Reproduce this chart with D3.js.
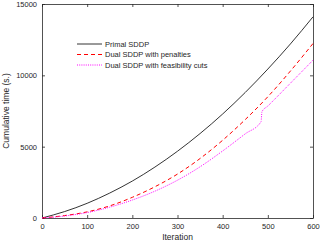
<!DOCTYPE html>
<html>
<head>
<meta charset="utf-8">
<script src="https://cdn.jsdelivr.net/npm/d3@7"></script>
<style>
  body { margin: 0; background: #fff; }
  svg { font-family: "Liberation Sans", Arial, sans-serif; }
</style>
</head>
<body>
<div id="chart"></div>
<script>
// data
var iterations = [0, 50, 100, 150, 200, 250, 300, 350, 400, 450, 500, 550, 600];
var primal = [0, 450, 1030, 1750, 2590, 3570, 4680, 5920, 7290, 8800, 10440, 12200, 14100];
var penalties = [0, 170, 430, 850, 1450, 2190, 3080, 4170, 5450, 6900, 8500, 10300, 12230];
var feasIter = [0, 50, 100, 150, 200, 250, 300, 350, 400, 450, 485, 487, 500, 550, 600];
var feasCuts = [0, 140, 380, 760, 1260, 1880, 2650, 3590, 4700, 5900, 6750, 7450, 7850, 9450, 11060];
var xTicks = [0, 100, 200, 300, 400, 500, 600];
var yTicks = [0, 5000, 10000, 15000];
var seriesNames = ["Primal SDDP", "Dual SDDP with penalties", "Dual SDDP with feasibility cuts"];

var width = 320, height = 244;
var margin = {left: 42, right: 7, top: 4, bottom: 26};
var axisColor = "#262626";

var svg = d3.select("#chart").append("svg")
    .attr("width", width)
    .attr("height", height);

var x = d3.scaleLinear().domain([0, 600]).range([margin.left, width - margin.right]);
var y = d3.scaleLinear().domain([0, 15000]).range([height - margin.bottom, margin.top]);
var fmt = d3.format("d");

// axes (ticks inside, box on all sides)
svg.append("g")
    .attr("transform", "translate(0," + y(0) + ")")
    .call(d3.axisBottom(x).tickValues(xTicks).tickFormat(fmt).tickSizeInner(-3).tickSizeOuter(0).tickPadding(6));
svg.append("g")
    .attr("transform", "translate(0," + y(15000) + ")")
    .call(d3.axisTop(x).tickValues(xTicks).tickSizeInner(-3).tickSizeOuter(0).tickFormat(""));
svg.append("g")
    .attr("transform", "translate(" + x(0) + ",0)")
    .call(d3.axisLeft(y).tickValues(yTicks).tickFormat(fmt).tickSizeInner(-3).tickSizeOuter(0).tickPadding(5));
svg.append("g")
    .attr("transform", "translate(" + x(600) + ",0)")
    .call(d3.axisRight(y).tickValues(yTicks).tickSizeInner(-3).tickSizeOuter(0).tickFormat(""));

svg.selectAll(".domain, .tick line").attr("stroke", axisColor).attr("stroke-width", 0.8);
svg.selectAll(".tick text")
    .attr("fill", axisColor)
    .style("font-size", "7.5px")
    .style("font-family", "'Liberation Sans', Arial, sans-serif");

// axis titles
svg.append("text")
    .attr("x", (x(0) + x(600)) / 2)
    .attr("y", 240)
    .attr("text-anchor", "middle")
    .attr("fill", axisColor)
    .style("font-size", "8.5px")
    .text("Iteration");
svg.append("text")
    .attr("transform", "translate(9," + (y(7500)) + ") rotate(-90)")
    .attr("text-anchor", "middle")
    .attr("fill", axisColor)
    .style("font-size", "8.5px")
    .text("Cumulative time (s.)");

// lines
var line = d3.line()
    .x(function (d) { return x(d[0]); })
    .y(function (d) { return y(d[1]); })
    .curve(d3.curveMonotoneX);

var styles = [
    {color: "#000000", dash: null, w: 0.8},
    {color: "#ff0000", dash: "4,3", w: 1},
    {color: "#ff00ff", dash: "1,1.2", w: 1}
];
var series = [
    d3.zip(iterations, primal),
    d3.zip(iterations, penalties),
    d3.zip(feasIter, feasCuts)
];

series.forEach(function (s, i) {
    svg.append("path")
        .datum(s)
        .attr("fill", "none")
        .attr("stroke", styles[i].color)
        .attr("stroke-width", styles[i].w)
        .attr("stroke-dasharray", styles[i].dash)
        .attr("d", line);
});

// legend
var legend = svg.append("g").attr("transform", "translate(77,44)");
seriesNames.forEach(function (name, i) {
    var row = legend.append("g").attr("transform", "translate(0," + (i * 10.5) + ")");
    row.append("line")
        .attr("x1", 0).attr("x2", 25)
        .attr("stroke", styles[i].color)
        .attr("stroke-width", styles[i].w)
        .attr("stroke-dasharray", styles[i].dash);
    row.append("text")
        .attr("x", 28)
        .attr("dy", "0.35em")
        .attr("fill", axisColor)
        .style("font-size", "7.5px")
        .text(name);
});
</script>
</body>
</html>
